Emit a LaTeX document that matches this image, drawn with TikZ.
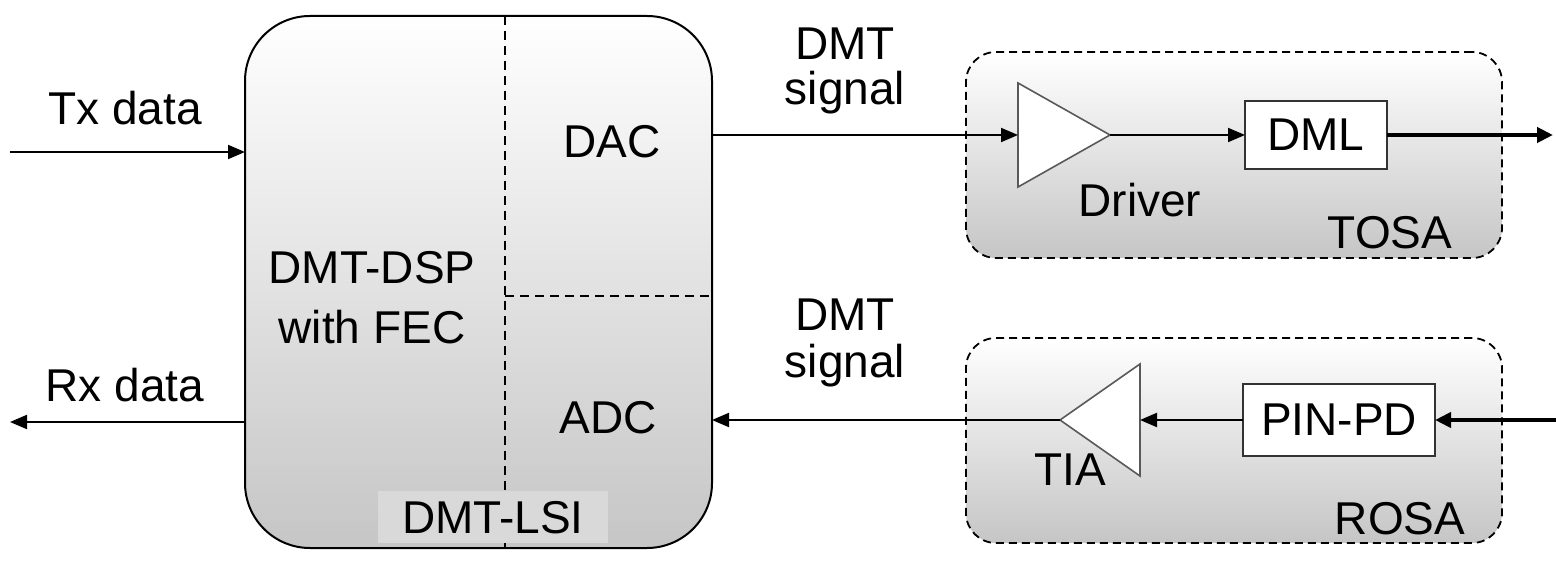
\documentclass[tikz,border=0pt]{standalone}
\usepackage{fontspec}
\setmainfont{Liberation Sans}
\usetikzlibrary{arrows.meta,calc}
\begin{document}
\begin{tikzpicture}[x=1pt,y=-1pt,
  every node/.style={font=\fontsize{46}{60}\selectfont, inner sep=0pt, outer sep=0pt},
  mainbox/.style={draw, line width=2pt, rounded corners=65pt, top color=white, bottom color=gray!45},
  osabox/.style={draw, line width=1.8pt, dash pattern=on 8pt off 5pt, rounded corners=30pt, top color=white, bottom color=gray!45},
  divider/.style={line width=2pt, dash pattern=on 9pt off 6pt},
  amp/.style={draw=black!65, line width=1.6pt, fill=white},
  block/.style={draw=black!80, line width=2pt, fill=white},
  arr/.style={-{Triangle[length=17pt,width=14pt]}, line width=2pt},
  thickarr/.style={-{Triangle[length=16pt,width=15pt]}, line width=4pt},
  lbl/.style={align=center}
]
\useasboundingbox (0,0) rectangle (1556,577);

% main DSP box
\node[mainbox, minimum width=467pt, minimum height=532pt] (dsp) at (478.5,282) {};
\draw[divider] (505,16) -- (505,548);
\draw[divider] (505,296) -- (710,296);
\node[fill=gray!30, minimum width=230pt, minimum height=52pt] (lsibg) at (493,517) {};
\node (lsi) at (493,518) {DMT-LSI};
\node[lbl] (dsptxt) at (372,298) {DMT-DSP\\with FEC};
\node (dac) at (612,142) {DAC};
\node (adc) at (608,418) {ADC};

% left I/O
\coordinate (txin) at (10,152);
\coordinate (rxout) at (10,422);
\draw[arr] (txin) -- (txin -| dsp.west);
\draw[arr] (rxout -| dsp.west) -- (rxout);
\node (tx) at (125,108) {Tx data};
\node (rx) at (125,385) {Rx data};

% TOSA
\node[osabox, minimum width=536pt, minimum height=206pt] (tosa) at (1234,155) {};
\coordinate (drvA) at (1018,83);
\coordinate (drvB) at (1018,187);
\coordinate (drvT) at (1110,135);
\coordinate (drvIn) at (1018,135);
\draw[amp] (drvA) -- (drvT) -- (drvB) -- cycle;
\node[block, minimum width=142pt, minimum height=68pt] (dml) at (1316,135) {DML};
\coordinate (txout) at (1553,135);
\node (drvtxt) at (1140,200) {Driver};
\node (tosatxt) at (1390,233) {TOSA};

\draw[arr] (dsp.east |- drvIn) -- (drvIn);
\draw[arr] (drvT) -- (dml.west);
\draw[thickarr] (dml.east) -- (txout);

\node (dmt1) at (845,44) {DMT};
\node (sig1) at (845,93) {signal};

% ROSA
\node[osabox, minimum width=536pt, minimum height=205pt] (rosa) at (1234,440.5) {};
\coordinate (tiaT) at (1060,420);
\coordinate (tiaA) at (1140,364);
\coordinate (tiaB) at (1140,476);
\coordinate (tiaIn) at (1140,420);
\draw[amp] (tiaT) -- (tiaA) -- (tiaB) -- cycle;
\node[block, minimum width=192pt, minimum height=72pt] (pin) at (1339,420) {PIN-PD};
\coordinate (rxin) at (1556,420);
\node (tiatxt) at (1070,470) {TIA};
\node (rosatxt) at (1400,519) {ROSA};

\draw[thickarr] (rxin) -- (pin.east);
\draw[arr] (pin.west) -- (tiaIn);
\draw[arr] (tiaT) -- (tiaT -| dsp.east);

\node (dmt2) at (845,315) {DMT};
\node (sig2) at (845,366) {signal};
\end{tikzpicture}
\end{document}
